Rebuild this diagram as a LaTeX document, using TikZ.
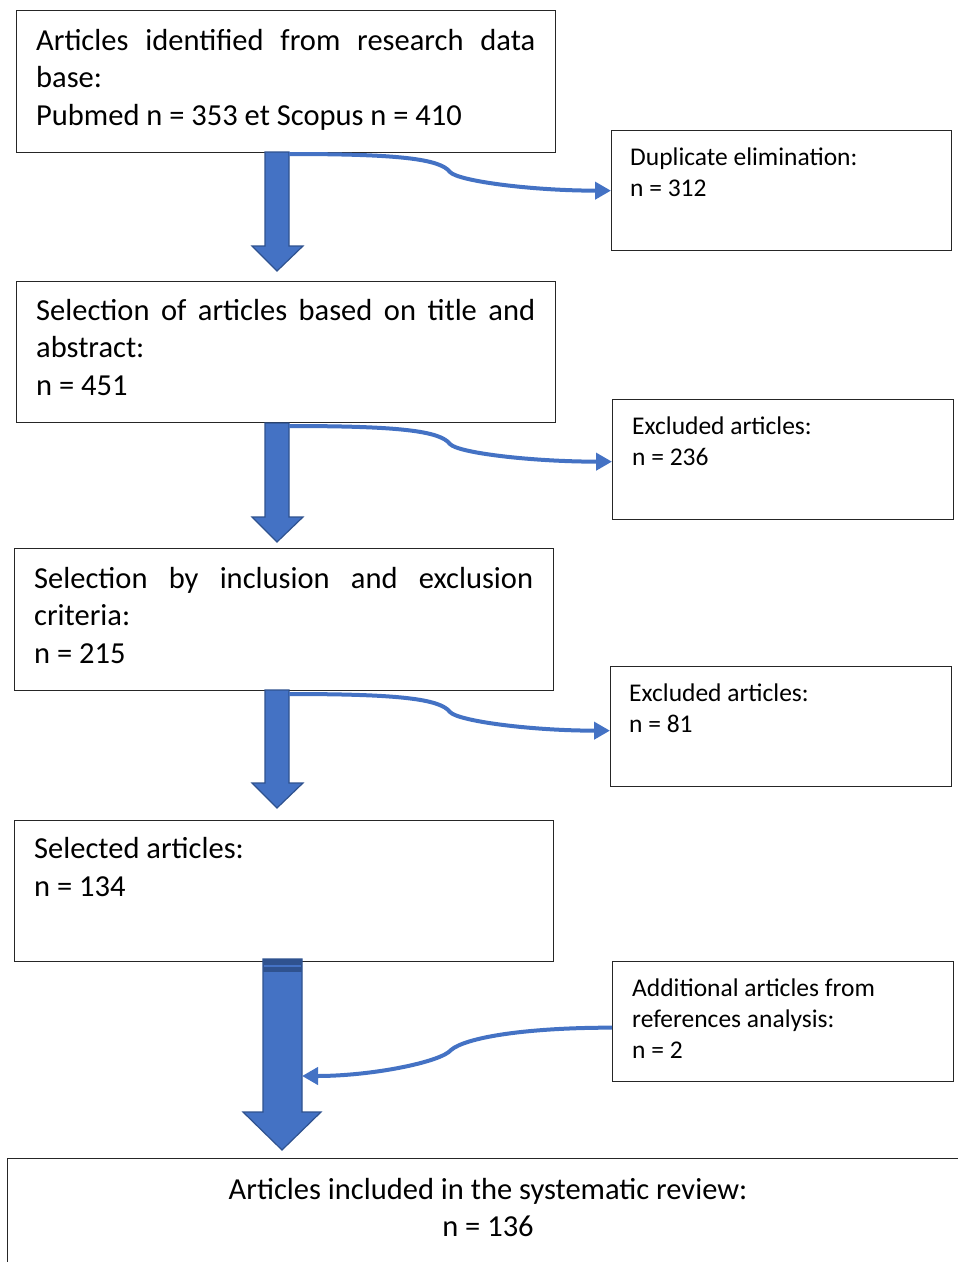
\documentclass[tikz,border=0pt]{standalone}
\usepackage{fontspec}
\setmainfont{Carlito}
\usetikzlibrary{arrows.meta}
\definecolor{blu}{HTML}{4472C4}
\definecolor{bluedge}{HTML}{2F528F}
\begin{document}
\begin{tikzpicture}[x=1pt,y=-1pt,
  box/.style={draw=black!85, line width=1.3pt, fill=white, inner sep=0pt, anchor=north west},
  bigtxt/.style={font=\fontsize{30.5}{37.5}\selectfont, anchor=base west, inner sep=0pt},
  smalltxt/.style={font=\fontsize{25.5}{31}\selectfont, anchor=base west, inner sep=0pt},
  blockarrow/.style={fill=blu, draw=bluedge, line width=1.2pt, line join=miter},
  conn/.style={draw=blu, line width=4pt, -{Triangle[length=16pt,width=17pt]}}]
\clip (0,0) rectangle (958,1262);
\fill[white] (0,0) rectangle (958,1262);

% main boxes
\node[box, minimum width=539pt, minimum height=142pt] (b1) at (16,10) {};
\node[box, minimum width=539pt, minimum height=141pt] (b2) at (16,281) {};
\node[box, minimum width=539pt, minimum height=142pt] (b3) at (14,548) {};
\node[box, minimum width=539pt, minimum height=141pt] (b4) at (14,820) {};
\node[box, minimum width=1000pt, minimum height=150pt] (b5) at (7,1158) {};
% side boxes
\node[box, minimum width=340pt, minimum height=120pt] (d1) at (611,130) {};
\node[box, minimum width=341pt, minimum height=120pt] (e1) at (612,399) {};
\node[box, minimum width=341pt, minimum height=120pt] (e2) at (610,666) {};
\node[box, minimum width=341pt, minimum height=120pt] (a1) at (612,961) {};

% texts main boxes
\node[bigtxt] (t1a) at (36,50) {\makebox[499pt][s]{Articles identified from research data}};
\node[bigtxt] (t1b) at (36,87.5) {base:};
\node[bigtxt] (t1c) at (36,125) {Pubmed n = 353 et Scopus n = 410};

\node[bigtxt] (t2a) at (36,320) {\makebox[499pt][s]{Selection of articles based on title and}};
\node[bigtxt] (t2b) at (36,357.5) {abstract:};
\node[bigtxt] (t2c) at (36,395) {n = 451};

\node[bigtxt] (t3a) at (34,588) {\makebox[499pt][s]{Selection by inclusion and exclusion}};
\node[bigtxt] (t3b) at (34,625.5) {criteria:};
\node[bigtxt] (t3c) at (34,663) {n = 215};

\node[bigtxt] (t4a) at (34,858) {Selected articles:};
\node[bigtxt] (t4b) at (34,896) {n = 134};

\node[bigtxt, anchor=base] (t5a) at (488,1199) {Articles included in the systematic review:};
\node[bigtxt, anchor=base] (t5b) at (488,1236) {n = 136};

% texts side boxes
\node[smalltxt] (td1a) at (630,165) {Duplicate elimination:};
\node[smalltxt] (td1b) at (630,196) {n = 312};
\node[smalltxt] (te1a) at (632,434) {Excluded articles:};
\node[smalltxt] (te1b) at (632,465) {n = 236};
\node[smalltxt] (te2a) at (629,701) {Excluded articles:};
\node[smalltxt] (te2b) at (629,732) {n = 81};
\node[smalltxt] (ta1a) at (632,996) {Additional articles from};
\node[smalltxt] (ta1b) at (632,1027) {references analysis:};
\node[smalltxt] (ta1c) at (632,1058) {n = 2};

% block arrows
\draw[blockarrow] (265,152) -- (289,152) -- (289,246) -- (303,246) -- (277,271) -- (252,246) -- (265,246) -- cycle;
\draw[blockarrow] (265,423) -- (289,423) -- (289,517) -- (303,517) -- (277,542) -- (252,517) -- (265,517) -- cycle;
\draw[blockarrow] (265,690) -- (289,690) -- (289,783) -- (303,783) -- (277,808) -- (252,783) -- (265,783) -- cycle;
\draw[blockarrow] (263,959) -- (302,959) -- (302,1112) -- (321,1112) -- (282,1150) -- (243,1112) -- (263,1112) -- cycle;
\fill[bluedge] (263,959) rectangle (302,972);
\draw[blu, line width=1.5pt] (264,966) -- (301,966);

% connector anchor points
\coordinate (s1) at (289,154);
\coordinate (k1) at (450,172);
\coordinate (s2) at (289,426);
\coordinate (k2) at (450,444);
\coordinate (s3) at (289,694);
\coordinate (k3) at (450,712);
\coordinate (k4) at (451,1050);
\coordinate (f4) at (302,1076);

\draw[conn] (s1) .. controls +(111,0) and +(-10,-13) .. (k1) .. controls +(8,9) and +(-80,0) .. (d1.west);
\draw[conn] (s2) .. controls +(111,0) and +(-10,-13) .. (k2) .. controls +(8,9) and +(-80,0) .. ([yshift=-2pt]e1.west);
\draw[conn] (s3) .. controls +(111,0) and +(-10,-13) .. (k3) .. controls +(8,9) and +(-80,0) .. ([yshift=-4pt]e2.west);
\draw[conn] ([yshift=-6pt]a1.west) .. controls +(-90,0) and +(14,-12) .. (k4) .. controls +(-10,12) and +(70,0) .. (f4);
\end{tikzpicture}
\end{document}
